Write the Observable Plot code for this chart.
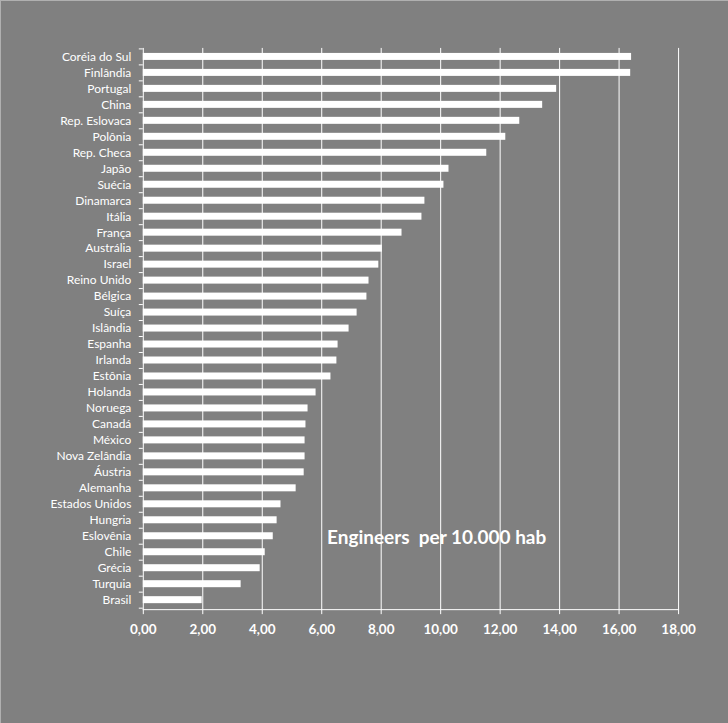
<!DOCTYPE html>
<html>
<head>
<meta charset="utf-8">
<script src="https://cdn.jsdelivr.net/npm/d3@7"></script>
<script src="https://cdn.jsdelivr.net/npm/@observablehq/plot@0.6"></script>
<style>
  html, body { margin: 0; padding: 0; background: #808080; }
  #chart { width: 728px; height: 723px; box-sizing: border-box; border-left: 1px solid #b0b0b0; border-top: 1px solid #b0b0b0; overflow: hidden; }
  #chart svg { display: block; margin-left: -1px; margin-top: -1px; }
</style>
</head>
<body>
<div id="chart"></div>
<script>
const countries = ["Coréia do Sul","Finlândia","Portugal","China","Rep. Eslovaca","Polônia","Rep. Checa","Japão","Suécia","Dinamarca","Itália","França","Austrália","Israel","Reino Unido","Bélgica","Suíça","Islândia","Espanha","Irlanda","Estônia","Holanda","Noruega","Canadá","México","Nova Zelândia","Áustria","Alemanha","Estados Unidos","Hungria","Eslovênia","Chile","Grécia","Turquia","Brasil"];
const values = [16.42,16.39,13.90,13.43,12.66,12.19,11.55,10.28,10.11,9.47,9.37,8.70,8.04,7.92,7.59,7.52,7.19,6.92,6.55,6.51,6.31,5.81,5.54,5.47,5.44,5.44,5.41,5.14,4.63,4.50,4.37,4.10,3.93,3.29,1.98];
const xTicks = [0,2,4,6,8,10,12,14,16,18];
const title = "Engineers  per 10.000 hab";

const data = countries.map((c, i) => ({country: c, value: values[i]}));

const W = 728, H = 723, mL = 143, mR = 49, mT = 48, mB = 113;
const step = (H - mT - mB) / countries.length;
const fmt = d => d.toFixed(2).replace(".", ",");

const chart = Plot.plot({
  width: W, height: H,
  marginLeft: mL, marginRight: mR, marginTop: mT, marginBottom: mB,
  style: {background: "transparent", color: "white", fontFamily: "Lato, 'Open Sans', sans-serif"},
  x: {domain: [0, 18], label: null},
  y: {domain: countries, paddingInner: 0.56, paddingOuter: 0.28, label: null},
  marks: [
    Plot.gridX(xTicks.slice(1), {stroke: "white", strokeOpacity: 1, strokeWidth: 1}),
    Plot.barX(data, {x: "value", y: "country", fill: "white"}),
    Plot.frame({anchor: "left", stroke: "white", strokeWidth: 1}),
    Plot.frame({anchor: "bottom", stroke: "white", strokeWidth: 1}),
    Plot.axisX(xTicks, {tickSize: 5, tickPadding: 10, tickFormat: fmt, fontSize: 13.5, fontWeight: "bold", color: "white"}),
    Plot.axisY({tickSize: 0, tickPadding: 12, fontSize: 12, color: "white"}),
    Plot.axisY({tickSize: 4, dy: -step / 2, tickFormat: () => "", color: "white"}),
    Plot.axisY([countries[countries.length - 1]], {tickSize: 4, dy: step / 2, tickFormat: () => "", color: "white"}),
    Plot.text([title], {text: d => d, frameAnchor: "bottom-left", dx: 184, dy: -72, textAnchor: "start", lineAnchor: "middle", fontSize: 19, fontWeight: "bold", fill: "white"})
  ]
});
document.getElementById("chart").appendChild(chart);
</script>
</body>
</html>
